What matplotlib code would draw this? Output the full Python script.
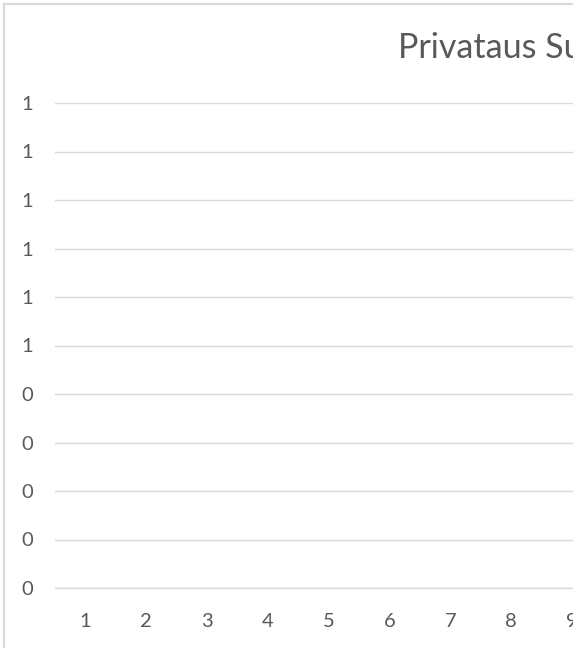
import matplotlib
matplotlib.use("Agg")
import matplotlib.pyplot as plt
from matplotlib.patches import Rectangle
from matplotlib.lines import Line2D

# Chart content
title = "Privataus Su"
categories = [1, 2, 3, 4, 5, 6, 7, 8, 9, 10, 11, 12]
values = [None] * len(categories)  # series with no plotted values
y_ticks = [0.0, 0.1, 0.2, 0.3, 0.4, 0.5, 0.6, 0.7, 0.8, 0.9, 1.0]
y_tick_labels = ["0", "0", "0", "0", "0", "1", "1", "1", "1", "1", "1"]

W, H = 578, 648
plt.rcParams["font.family"] = ["Lato", "DejaVu Sans"]
text_color = "#595959"
grid_color = "#d9d9d9"

fig = plt.figure(figsize=(W / 100, H / 100), dpi=100)
fig.patch.set_facecolor("white")

# plot area: starts at x=55px, one category = 60.8px, y from 588px (0) to 103px (1)
cat_w = 60.8
left_px, bottom_px, top_px = 55, 588, 103
ax = fig.add_axes([left_px / W, (H - bottom_px) / H,
                   cat_w * len(categories) / W, (bottom_px - top_px) / H])
ax.set_xlim(0.5, len(categories) + 0.5)
ax.set_ylim(0, 1)
ax.plot(categories, [v if v is not None else float("nan") for v in values])

ax.set_xticks(categories)
ax.set_xticklabels([str(c) for c in categories])
ax.set_yticks(y_ticks)
ax.set_yticklabels(y_tick_labels)
ax.grid(axis="y", color=grid_color, linewidth=1.0)
ax.set_axisbelow(True)
for s in ["top", "right", "left"]:
    ax.spines[s].set_visible(False)
ax.spines["bottom"].set_color(grid_color)
ax.spines["bottom"].set_linewidth(1.0)
ax.tick_params(axis="both", length=0, colors=text_color, labelsize=14.5)
ax.tick_params(axis="x", pad=18)
ax.tick_params(axis="y", pad=16)

fig.text(398 / W, 1 - 48 / H, title, ha="left", va="center",
         fontsize=24.5, color=text_color)

# outer chart border (left and top edges)
fig.add_artist(Line2D([3.5 / W, 3.5 / W], [0, 1 - 3.5 / H], transform=fig.transFigure,
                      color=grid_color, linewidth=1.5))
fig.add_artist(Line2D([3.5 / W, 1], [1 - 3.5 / H, 1 - 3.5 / H], transform=fig.transFigure,
                      color=grid_color, linewidth=1.5))

# right margin strip
fig.add_artist(Rectangle((573 / W, 0), 1, 1, transform=fig.transFigure,
                         facecolor="white", edgecolor="none", zorder=10))

fig.savefig("out.png", dpi=100)
